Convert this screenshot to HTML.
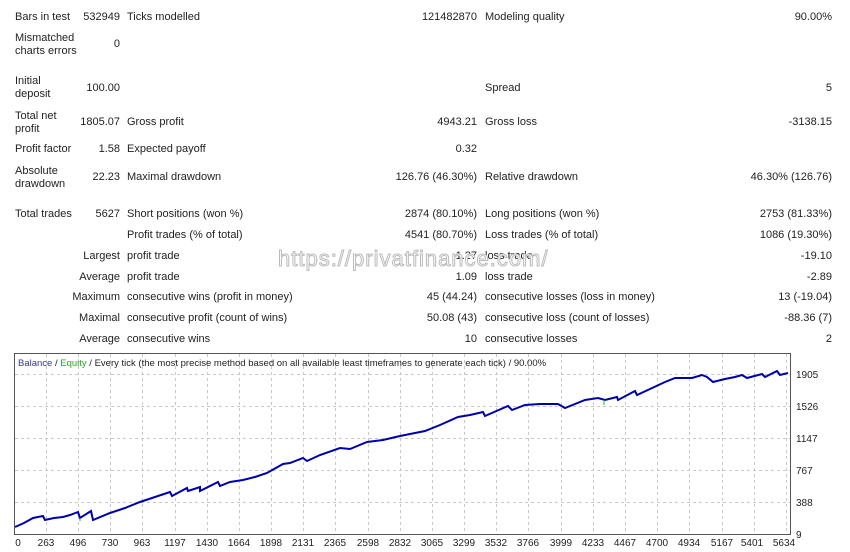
<!DOCTYPE html>
<html><head><meta charset="utf-8"><style>
body{margin:0;background:#fff;width:850px;height:552px;position:relative;overflow:hidden;font-family:"Liberation Sans","DejaVu Sans",sans-serif;font-size:11px;color:#222}
.t{position:absolute;white-space:nowrap;line-height:13px}
.r{text-align:right}
</style></head><body>
<div class="t" style="left:15px;top:11px">Bars in test</div><div class="t r" style="right:730px;top:11px">532949</div>
<div class="t" style="left:127px;top:11px">Ticks modelled</div><div class="t r" style="right:373px;top:11px">121482870</div>
<div class="t" style="left:485px;top:11px">Modeling quality</div><div class="t r" style="right:18px;top:11px">90.00%</div>

<div class="t" style="left:15px;top:32px">Mismatched<br>charts errors</div><div class="t r" style="right:730px;top:38px">0</div>

<div class="t" style="left:15px;top:75px">Initial<br>deposit</div><div class="t r" style="right:730px;top:82px">100.00</div>
<div class="t" style="left:485px;top:82px">Spread</div><div class="t r" style="right:18px;top:82px">5</div>

<div class="t" style="left:15px;top:110px">Total net<br>profit</div><div class="t r" style="right:730px;top:116px">1805.07</div>
<div class="t" style="left:127px;top:116px">Gross profit</div><div class="t r" style="right:373px;top:116px">4943.21</div>
<div class="t" style="left:485px;top:116px">Gross loss</div><div class="t r" style="right:18px;top:116px">-3138.15</div>

<div class="t" style="left:15px;top:143px">Profit factor</div><div class="t r" style="right:730px;top:143px">1.58</div>
<div class="t" style="left:127px;top:143px">Expected payoff</div><div class="t r" style="right:373px;top:143px">0.32</div>

<div class="t" style="left:15px;top:165px">Absolute<br>drawdown</div><div class="t r" style="right:730px;top:171px">22.23</div>
<div class="t" style="left:127px;top:171px">Maximal drawdown</div><div class="t r" style="right:373px;top:171px">126.76 (46.30%)</div>
<div class="t" style="left:485px;top:171px">Relative drawdown</div><div class="t r" style="right:18px;top:171px">46.30% (126.76)</div>

<div class="t" style="left:15px;top:208px">Total trades</div><div class="t r" style="right:730px;top:208px">5627</div>
<div class="t" style="left:127px;top:208px">Short positions (won %)</div><div class="t r" style="right:373px;top:208px">2874 (80.10%)</div>
<div class="t" style="left:485px;top:208px">Long positions (won %)</div><div class="t r" style="right:18px;top:208px">2753 (81.33%)</div>

<div class="t" style="left:127px;top:229px">Profit trades (% of total)</div><div class="t r" style="right:373px;top:229px">4541 (80.70%)</div>
<div class="t" style="left:485px;top:229px">Loss trades (% of total)</div><div class="t r" style="right:18px;top:229px">1086 (19.30%)</div>

<div class="t r" style="right:730px;top:250px">Largest</div><div class="t" style="left:127px;top:250px">profit trade</div><div class="t r" style="right:373px;top:250px">1.27</div>
<div class="t" style="left:485px;top:250px">loss trade</div><div class="t r" style="right:18px;top:250px">-19.10</div>

<div class="t r" style="right:730px;top:271px">Average</div><div class="t" style="left:127px;top:271px">profit trade</div><div class="t r" style="right:373px;top:271px">1.09</div>
<div class="t" style="left:485px;top:271px">loss trade</div><div class="t r" style="right:18px;top:271px">-2.89</div>

<div class="t r" style="right:730px;top:291px">Maximum</div><div class="t" style="left:127px;top:291px">consecutive wins (profit in money)</div><div class="t r" style="right:373px;top:291px">45 (44.24)</div>
<div class="t" style="left:485px;top:291px">consecutive losses (loss in money)</div><div class="t r" style="right:18px;top:291px">13 (-19.04)</div>

<div class="t r" style="right:730px;top:312px">Maximal</div><div class="t" style="left:127px;top:312px">consecutive profit (count of wins)</div><div class="t r" style="right:373px;top:312px">50.08 (43)</div>
<div class="t" style="left:485px;top:312px">consecutive loss (count of losses)</div><div class="t r" style="right:18px;top:312px">-88.36 (7)</div>

<div class="t r" style="right:730px;top:333px">Average</div><div class="t" style="left:127px;top:333px">consecutive wins</div><div class="t r" style="right:373px;top:333px">10</div>
<div class="t" style="left:485px;top:333px">consecutive losses</div><div class="t r" style="right:18px;top:333px">2</div>

<div class="t" style="left:278px;top:246px;font-size:22px;line-height:26px;color:#fff;-webkit-text-stroke:1px #bbb;letter-spacing:1px">https://privatfinance.com/</div>

<svg style="position:absolute;left:0;top:0" width="850" height="552">
<g stroke="#c8c8c8" stroke-dasharray="3,3" stroke-width="1">
<line x1="15" x2="791" y1="374.5" y2="374.5"/><line x1="15" x2="791" y1="406.5" y2="406.5"/><line x1="15" x2="791" y1="438.5" y2="438.5"/><line x1="15" x2="791" y1="470.5" y2="470.5"/><line x1="15" x2="791" y1="502.5" y2="502.5"/>
<line x1="46.5" x2="46.5" y1="354" y2="535"/><line x1="78.5" x2="78.5" y1="354" y2="535"/><line x1="110.5" x2="110.5" y1="354" y2="535"/><line x1="142.5" x2="142.5" y1="354" y2="535"/><line x1="175.5" x2="175.5" y1="354" y2="535"/><line x1="207.5" x2="207.5" y1="354" y2="535"/><line x1="239.5" x2="239.5" y1="354" y2="535"/><line x1="271.5" x2="271.5" y1="354" y2="535"/><line x1="303.5" x2="303.5" y1="354" y2="535"/><line x1="335.5" x2="335.5" y1="354" y2="535"/><line x1="368.5" x2="368.5" y1="354" y2="535"/><line x1="400.5" x2="400.5" y1="354" y2="535"/><line x1="432.5" x2="432.5" y1="354" y2="535"/><line x1="464.5" x2="464.5" y1="354" y2="535"/><line x1="496.5" x2="496.5" y1="354" y2="535"/><line x1="528.5" x2="528.5" y1="354" y2="535"/><line x1="561.5" x2="561.5" y1="354" y2="535"/><line x1="593.5" x2="593.5" y1="354" y2="535"/><line x1="625.5" x2="625.5" y1="354" y2="535"/><line x1="657.5" x2="657.5" y1="354" y2="535"/><line x1="689.5" x2="689.5" y1="354" y2="535"/><line x1="722.5" x2="722.5" y1="354" y2="535"/><line x1="754.5" x2="754.5" y1="354" y2="535"/><line x1="786.5" x2="786.5" y1="354" y2="535"/>
</g>
<rect x="14.5" y="353.5" width="776" height="181" fill="none" stroke="#555"/>
<polyline fill="none" stroke="#0000aa" stroke-width="2" points="15,527 24,523 33,518 43,516 45,520 54,518 63,517 70,515 78,512 80,518 91,511 93,520 110,513 125,508 140,502 155,497 170,492 172,496 187,488 188,491 200,487 200,491 218,482 220,486 230,482 243,480 255,477 267,473 283,464 290,463 303,458 307,461 320,455 340,448 350,449 367,442 383,440 400,436 425,431 440,425 458,417 470,415 483,412 485,416 508,406 512,410 525,405 540,404 558,404 565,408 585,400 598,398 605,400 617,397 618,400 635,391 637,395 650,389 665,382 675,378 692,378 702,375 707,377 713,382 725,379 735,377 742,375 747,378 762,374 765,377 777,371 780,375 788,373"/>
<line x1="80" y1="518" x2="80" y2="521" stroke="#22bb22"/><line x1="604" y1="400" x2="604" y2="405" stroke="#22bb22"/>
<g font-size="10" fill="#222" font-family="Liberation Sans, sans-serif">
<text x="796" y="378">1905</text><text x="796" y="410">1526</text><text x="796" y="442">1147</text><text x="796" y="474">767</text><text x="796" y="506">388</text><text x="796" y="538">9</text>
<g text-anchor="middle">
<text x="18" y="546">0</text><text x="46" y="546">263</text><text x="78" y="546">496</text><text x="110" y="546">730</text><text x="142" y="546">963</text><text x="175" y="546">1197</text><text x="207" y="546">1430</text><text x="239" y="546">1664</text><text x="271" y="546">1898</text><text x="303" y="546">2131</text><text x="335" y="546">2365</text><text x="368" y="546">2598</text><text x="400" y="546">2832</text><text x="432" y="546">3065</text><text x="464" y="546">3299</text><text x="496" y="546">3532</text><text x="528" y="546">3766</text><text x="561" y="546">3999</text><text x="593" y="546">4233</text><text x="625" y="546">4467</text><text x="657" y="546">4700</text><text x="689" y="546">4934</text><text x="722" y="546">5167</text><text x="752" y="546">5401</text><text x="784" y="546">5634</text>
</g>
<text x="18" y="366" font-size="9.5"><tspan fill="#3333aa">Balance</tspan> / <tspan fill="#22aa22">Equity</tspan> / Every tick (the most precise method based on all available least timeframes to generate each tick) / 90.00%</text>
</g>
</svg>
</body></html>
